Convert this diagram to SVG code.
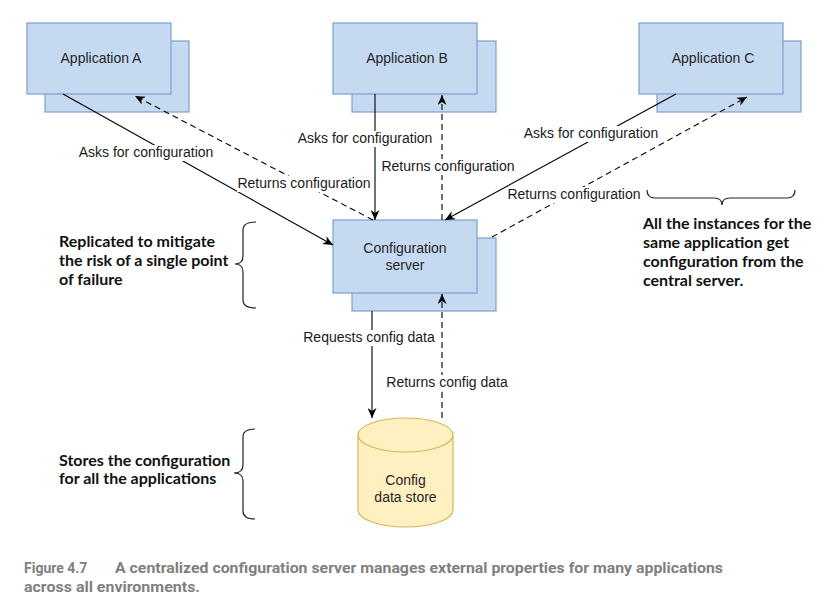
<svg xmlns="http://www.w3.org/2000/svg" width="840" height="606" viewBox="0 0 840 606">
<style>
.front{fill:#c5d9f1;stroke:#7d9fd0;stroke-width:1.2}
.back{fill:#c5d9f1;stroke:#7d9fd0;stroke-width:1.2}
.ntxt{font-family:"Liberation Sans",Arial,sans-serif;font-size:14px;fill:#262626;text-anchor:middle}
.ltxt{font-family:"Liberation Sans",Arial,sans-serif;font-size:14px;fill:#1a1a1a;text-anchor:middle}
.lbg{fill:#ffffff}
.solid{fill:none;stroke:#000;stroke-width:1.1;marker-end:url(#arr)}
.dash{fill:none;stroke:#000;stroke-width:1.1;stroke-dasharray:6 4;marker-end:url(#arr)}
.ann{font-family:Lato,"Open Sans",sans-serif;font-weight:700;font-size:16px;fill:#111}
.brace{fill:none;stroke:#222;stroke-width:1.2}
.cap{font-family:Roboto,"Liberation Sans",sans-serif;font-weight:700;font-size:14px;fill:#808080}
.cyl{fill:#fff0c2;stroke:#d6b656;stroke-width:1.2}
</style>
<defs>
<marker id="arr" markerWidth="11" markerHeight="9" refX="10" refY="4.5" orient="auto" markerUnits="userSpaceOnUse">
<path d="M0,0 L10,4.5 L0,9 L3,4.5 z" fill="#000" stroke="none"/>
</marker>
</defs>

<g id="app-a">
<rect class="back" x="45" y="41" width="144" height="71"/>
<rect class="front" x="27" y="23" width="144" height="71"/>
<text class="ntxt" x="101" y="63">Application A</text>
</g>
<g id="app-b">
<rect class="back" x="352" y="41" width="144" height="71"/>
<rect class="front" x="333" y="23" width="144" height="71"/>
<text class="ntxt" x="407" y="63">Application B</text>
</g>
<g id="app-c">
<rect class="back" x="657" y="41" width="144" height="71"/>
<rect class="front" x="639" y="23" width="144" height="71"/>
<text class="ntxt" x="713" y="63">Application C</text>
</g>
<g id="config-server">
<rect class="back" x="352" y="238" width="144" height="73"/>
<rect class="front" x="333" y="220" width="144" height="73"/>
<text class="ntxt" x="405" y="253">Configuration</text>
<text class="ntxt" x="405" y="270">server</text>
</g>
<g id="config-data-store">
<path class="cyl" d="M358,435 A47.5,17 0 0 1 453,435 L453,510 A47.5,17 0 0 1 358,510 Z"/>
<path class="cyl" d="M358,435 A47.5,17 0 0 0 453,435" fill="none"/>
<text class="ntxt" x="405.5" y="485">Config</text>
<text class="ntxt" x="405.5" y="502">data store</text>
</g>

<g id="connectors">
<path class="solid" d="M63,94 L333,245"/>
<path class="dash" d="M373,220 L135,96"/>
<path class="solid" d="M375,94 L375,220"/>
<path class="dash" d="M442,220 L442,95"/>
<path class="solid" d="M676,94 L445,220"/>
<path class="dash" d="M492,237 L747,97"/>
<path class="solid" d="M372,311 L372,418"/>
<path class="dash" d="M442,418 L442,294"/>

<rect class="lbg" x="78" y="145" width="137" height="16"/>
<text class="ltxt" x="146" y="157">Asks for configuration</text>
<rect class="lbg" x="237" y="176" width="135" height="16"/>
<text class="ltxt" x="304" y="188">Returns configuration</text>
<rect class="lbg" x="297" y="131" width="137" height="16"/>
<text class="ltxt" x="365" y="143">Asks for configuration</text>
<rect class="lbg" x="381" y="159" width="135" height="16"/>
<text class="ltxt" x="448" y="171">Returns configuration</text>
<rect class="lbg" x="523" y="126" width="137" height="16"/>
<text class="ltxt" x="591" y="138">Asks for configuration</text>
<rect class="lbg" x="507" y="187" width="135" height="16"/>
<text class="ltxt" x="574" y="199">Returns configuration</text>
<rect class="lbg" x="303" y="330" width="133" height="16"/>
<text class="ltxt" x="369" y="342">Requests config data</text>
<rect class="lbg" x="386" y="375" width="123" height="16"/>
<text class="ltxt" x="447" y="387">Returns config data</text>
</g>

<g id="annotations">
<path class="brace" d="M256,222 Q243,222 243,230 L243,256 Q243,264 235,264 Q243,264 243,272 L243,300 Q243,308 256,308"/>
<text class="ann" x="59" y="247">Replicated to mitigate</text>
<text class="ann" x="59" y="266">the risk of a single point</text>
<text class="ann" x="59" y="285">of failure</text>

<path class="brace" d="M255,429 Q243,429 243,437 L243,465 Q243,473 234,473 Q243,473 243,481 L243,511 Q243,519 255,519"/>
<text class="ann" x="59" y="466">Stores the configuration</text>
<text class="ann" x="59" y="484">for all the applications</text>

<path class="brace" d="M647,190 Q647,198 655,198 L714,198 Q722,198 722,205 Q722,198 730,198 L787,198 Q795,198 795,190"/>
<text class="ann" x="643" y="229">All the instances for the</text>
<text class="ann" x="643" y="248">same application get</text>
<text class="ann" x="643" y="267">configuration from the</text>
<text class="ann" x="643" y="286">central server.</text>
</g>

<g id="caption">
<text class="cap" x="24" y="573">Figure 4.7</text>
<text class="cap" x="115" y="573" textLength="608" lengthAdjust="spacingAndGlyphs">A centralized configuration server manages external properties for many applications</text>
<text class="cap" x="24" y="592" textLength="176" lengthAdjust="spacingAndGlyphs">across all environments.</text>
</g>
</svg>
